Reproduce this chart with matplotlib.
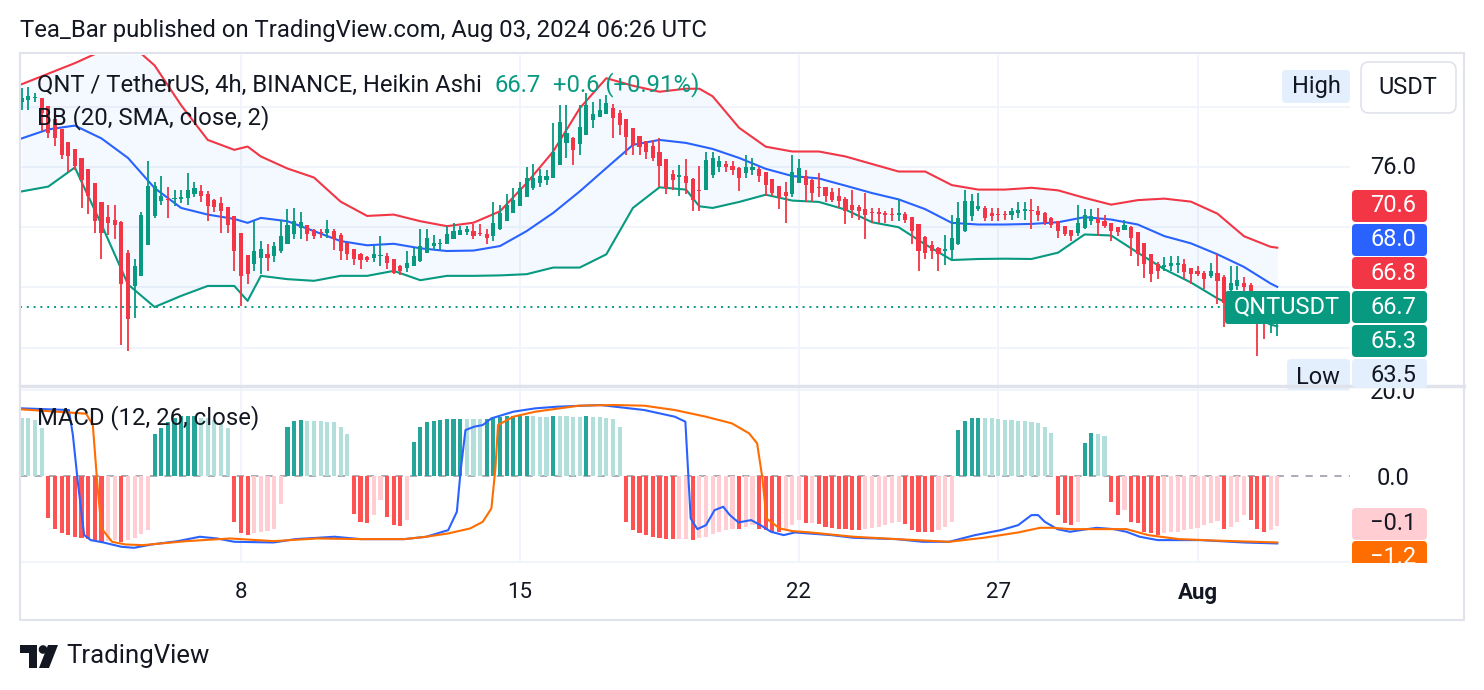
import numpy as np
import matplotlib
matplotlib.use("Agg")
import matplotlib.pyplot as plt
from matplotlib.patches import Rectangle, FancyBboxPatch, Polygon, Circle

plt.rcParams['font.family'] = ['Roboto', 'DejaVu Sans']

# ---------------- data ----------------
ha_open_first = 80.3
ha_close = [80.6, 80.7, 80.6, 79.56, 78.24, 77.91, 76.81, 76.7, 76.04, 75.15,
            74.05, 72.4, 71.63, 72.29, 72.18, 68.22, 65.9, 69.43, 72.84, 74.71,
            74.71, 74.05, 73.8, 73.9, 74.0, 74.5, 74.6, 74.05, 73.4, 73.35,
            73.06, 72.18, 70.42, 68.77, 68.88, 70.42, 70.53, 69.93, 70.75, 71.41,
            72.18, 72.4, 72.35, 71.52, 71.41, 71.6, 71.85, 71.19, 70.42, 70.2,
            69.87, 69.8, 69.85, 70.2, 70.1, 69.65, 68.99, 69.1, 69.65, 70.09,
            70.75, 71.3, 70.95, 70.97, 71.52, 71.78, 71.8, 71.85, 71.41, 71.52,
            71.3, 72.29, 72.95, 73.5, 73.83, 74.6, 75.26, 75.26, 75.37, 75.37,
            77.03, 79.01, 78.24, 77.14, 78.68, 80.11, 79.55, 79.78, 80.22, 79.23,
            78.79, 78.02, 77.47, 77.36, 77.03, 76.59, 76.04, 74.6, 75.15, 75.48,
            74.93, 73.83, 74.38, 76.48, 76.59, 76.37, 76.0, 75.79, 75.26, 76.0,
            76.0, 75.37, 74.82, 74.27, 73.94, 74.05, 75.7, 75.92, 74.82, 74.27,
            74.6, 74.05, 73.83, 73.72, 73.06, 73.17, 73.06, 72.84, 72.95, 72.86,
            72.8, 72.8, 72.95, 72.51, 71.74, 70.42, 70.31, 70.42, 70.2, 70.55,
            71.3, 72.62, 73.72, 73.72, 73.39, 72.62, 72.73, 72.8, 72.78, 73.06,
            73.17, 73.2, 73.05, 72.84, 72.29, 72.18, 71.74, 71.52, 71.41, 72.29,
            72.84, 72.73, 72.29, 72.07, 71.74, 71.7, 72.18, 71.3, 70.2, 69.54,
            68.88, 69.1, 69.5, 69.6, 69.6, 69.0, 68.9, 68.88, 68.55, 69.1,
            68.44, 67.0, 68.3, 68.5, 68.0, 66.9, 65.8, 65.9, 66.4, 66.6]
ha_high = [81.25, 81.3, 80.9, 80.6, 79.8, 78.6, 77.9, 77.5, 76.8, 76.2,
           75.4, 74.6, 73.0, 73.5, 73.5, 72.4, 70.5, 69.9, 73.0, 76.4,
           75.0, 75.4, 74.7, 74.5, 74.5, 75.6, 75.0, 74.8, 74.4, 73.9,
           74.0, 73.2, 72.4, 71.4, 70.1, 72.4, 71.1, 70.9, 71.0, 72.5,
           73.2, 73.3, 73.0, 72.0, 71.9, 71.9, 72.5, 71.9, 71.6, 70.9,
           70.5, 70.3, 70.1, 70.75, 71.4, 70.3, 69.8, 69.5, 70.4, 70.6,
           71.9, 71.9, 71.5, 71.2, 72.1, 72.3, 72.1, 72.1, 72.2, 72.2,
           71.9, 73.7, 73.5, 74.2, 74.6, 75.0, 76.0, 76.2, 75.9, 75.8,
           78.9, 80.1, 80.1, 78.0, 80.1, 80.9, 80.3, 80.55, 80.8, 80.2,
           79.8, 79.2, 78.6, 78.0, 77.7, 77.8, 77.9, 76.4, 75.8, 76.15,
           76.5, 75.3, 76.1, 77.0, 77.0, 76.7, 76.4, 76.4, 76.0, 76.8,
           76.6, 76.0, 75.5, 75.2, 74.6, 75.0, 76.8, 76.5, 75.8, 75.2,
           75.6, 74.7, 74.6, 74.6, 74.0, 74.5, 73.5, 74.3, 73.3, 73.3,
           73.1, 73.3, 73.9, 73.0, 72.7, 72.0, 71.4, 71.1, 70.7, 71.5,
           72.8, 73.7, 74.5, 74.2, 74.3, 73.4, 73.3, 73.3, 73.1, 73.3,
           73.7, 73.7, 73.9, 73.4, 73.0, 72.7, 72.4, 72.0, 71.8, 73.5,
           73.2, 73.2, 73.3, 72.8, 72.3, 72.0, 72.5, 72.1, 71.6, 70.9,
           70.2, 69.7, 70.0, 70.1, 70.1, 69.9, 69.3, 69.4, 69.1, 69.6,
           70.2, 68.8, 69.4, 69.4, 68.7, 68.3, 67.5, 66.6, 66.5, 66.8]
ha_low = [79.8, 79.8, 80.3, 78.4, 77.9, 77.4, 76.5, 75.7, 75.8, 73.3,
          72.9, 71.6, 69.9, 71.5, 71.2, 64.15, 63.8, 66.0, 69.3, 70.8,
          72.6, 73.5, 72.6, 73.4, 73.6, 73.5, 74.0, 73.7, 72.4, 73.0,
          71.6, 71.6, 69.1, 66.8, 68.2, 69.1, 68.9, 69.1, 69.7, 70.3,
          71.0, 71.2, 71.2, 71.1, 71.2, 71.3, 71.3, 70.5, 69.8, 69.8,
          69.5, 69.2, 69.7, 69.7, 69.4, 69.2, 68.9, 68.8, 69.0, 69.4,
          69.7, 70.4, 70.5, 70.5, 70.9, 71.2, 71.5, 71.5, 71.2, 71.4,
          70.9, 71.1, 71.8, 72.5, 73.0, 73.5, 74.2, 74.5, 74.7, 74.8,
          75.3, 76.3, 76.6, 76.15, 76.8, 78.1, 78.6, 79.3, 79.5, 77.9,
          78.1, 76.8, 76.8, 76.8, 76.5, 76.4, 74.7, 74.2, 74.5, 74.1,
          74.2, 73.06, 73.06, 74.5, 75.3, 75.7, 75.7, 75.5, 74.4, 75.3,
          75.5, 75.0, 74.05, 74.05, 73.2, 72.3, 74.0, 75.0, 73.7, 73.7,
          74.0, 73.7, 73.7, 73.3, 72.2, 72.6, 72.5, 71.2, 72.3, 72.3,
          72.3, 72.4, 72.4, 72.3, 70.9, 69.1, 69.9, 69.9, 69.1, 69.5,
          69.8, 70.8, 71.7, 72.4, 73.06, 72.4, 72.4, 72.4, 72.5, 72.5,
          72.6, 72.5, 71.85, 72.4, 72.18, 71.96, 71.3, 71.4, 71.08, 71.4,
          71.9, 72.18, 71.4, 71.96, 71.08, 71.4, 71.85, 70.09, 69.43, 68.66,
          68.33, 68.55, 69.1, 69.1, 68.99, 68.55, 68.2, 68.77, 67.9, 68.66,
          66.9, 65.35, 67.0, 67.8, 67.6, 66.2, 63.45, 64.58, 65.0, 64.8]

bb_idx = [0, 4, 8, 12, 16, 20, 24, 28, 32, 34, 36, 40, 44, 48, 52, 56, 60, 64, 68,
          72, 76, 80, 84, 88, 92, 96, 100, 102, 104, 108, 112, 116, 120, 124, 128,
          132, 136, 140, 144, 148, 152, 156, 160, 164, 168, 172, 176, 180, 184, 188, 189]
bb_upper = [81.5, 82.2, 82.9, 83.7, 84.3, 82.75, 80.1, 77.8, 77.14, 77.36, 76.7, 75.9,
            75.3, 73.7, 72.75, 72.84, 72.4, 72.07, 72.3, 73.06, 74.93, 77.03, 79.9,
            81.9, 81.4, 81.0, 81.2, 81.2, 80.7, 78.6, 77.35, 77.03, 77.03, 76.7, 76.2,
            75.7, 75.7, 74.8, 74.5, 74.5, 74.62, 74.45, 73.95, 73.5, 73.8, 73.9, 73.7,
            72.9, 71.4, 70.7, 70.64]
bb_basis = [77.9, 78.5, 78.75, 77.9, 76.6, 74.6, 73.28, 72.84, 72.55, 72.29, 72.62,
            72.4, 71.74, 71.08, 70.8, 70.9, 70.6, 70.42, 70.45, 70.75, 71.74, 72.95,
            74.38, 75.93, 77.47, 77.8, 77.6, 77.4, 77.2, 76.6, 75.88, 75.4, 75.24,
            74.76, 74.27, 73.85, 73.2, 72.29, 72.18, 72.18, 72.22, 72.33, 72.67,
            72.51, 72.18, 71.41, 70.93, 70.2, 69.36, 68.26, 68.04]
bb_lower = [74.38, 74.7, 75.97, 72.18, 68.2, 66.7, 67.44, 68.1, 68.1, 67.11, 68.77,
            68.55, 68.44, 68.77, 68.77, 69.1, 68.48, 68.77, 68.77, 68.8, 68.88, 69.32,
            69.32, 70.2, 73.28, 74.65, 74.5, 73.39, 73.28, 73.68, 74.16, 73.77, 73.68,
            73.17, 72.33, 72.0, 70.86, 69.82, 69.89, 69.91, 69.89, 70.31, 71.52, 71.45,
            70.31, 69.21, 68.33, 67.27, 66.41, 65.53, 65.42]
last_price = 66.7

macd_hist = [13.4, 13.4, 13.0, 11.2,
             -9.8, -12.2, -13.3, -13.7, -14.1, -14.5, -14.7, -15.0, -15.3, -15.1, -14.9,
             -15.3, -14.8, -14.3, -13.5, -12.6,
             9.7, 11.1, 12.6, 13.4, 13.9, 13.95, 14.0, 13.4, 13.4, 13.0, 12.3, 11.1,
             -10.6, -13.3, -13.7, -13.3, -12.9, -12.8, -12.2, -6.4,
             11.5, 12.8, 13.0, 12.8, 12.8, 12.75, 12.6, 12.5, 11.5, 9.7,
             -8.7, -10.6, -10.8, -9.1, -5.6, -9.5, -11.4, -11.5, -10.2,
             7.98, 11.47, 12.64, 12.79, 13.02, 13.18, 13.26, 13.3, 13.26, 13.24, 13.18,
             13.25, 13.57, 13.8, 13.88, 13.95, 14.02, 14.05, 13.95, 13.8, 13.78, 14.0,
             13.9, 13.85, 13.8, 13.75, 14.0, 13.8, 13.78, 13.6, 13.2, 11.5,
             -10.6, -12.6, -13.3, -13.7, -14.1, -14.5, -14.65, -14.7,
             -14.6, -14.55, -14.8, -14.3, -14.1, -13.5, -12.95, -12.56, -12.3,
             -12.4, -11.8, -11.4, -12.2, -12.6, -12.95, -13.1,
             -12.2, -11.4, -10.23, -11.0, -10.9, -11.2, -11.8, -12.0, -12.2, -12.3,
             -12.56, -12.6, -12.2, -12.0, -11.8, -11.4, -11.0, -10.6,
             -11.2, -12.56, -12.95, -13.0, -13.05, -12.56, -11.8, -10.6,
             10.7, 12.8, 13.4, 13.6, 13.41, 13.4, 13.26, 13.02, 12.95, 12.87, 12.79,
             12.64, 12.25, 11.47, 9.92,
             -9.1, -11.0, -11.4, -10.6,
             7.6, 9.9, 9.7, 9.2,
             -6.0, -9.1, -7.9, -10.6, -11.0, -12.95, -13.3, -13.7, -13.3, -13.1,
             -12.95, -12.56, -12.3, -12.17, -11.4, -11.0, -10.4, -12.3, -11.8, -10.6,
             -9.1, -10.2, -12.2, -12.95, -12.6, -11.5]
macd_x = [0, 7.1, 7.7, 8.5, 9.4, 10.4, 12.3, 15, 16.9, 19.6, 23.5, 26.8, 29.4, 32,
          37.9, 41.2, 47.1, 51, 57.6, 60.9, 64.2, 65.5, 66.1, 66.8, 68.1, 69.4, 70.7,
          74, 77.3, 80.6, 87.1, 93.7, 98.3, 99.9, 100.7, 101.7, 103, 104.3, 105.6,
          106.6, 107.9, 109.8, 111.2, 112.8, 114.7, 116.4, 121.9, 125.2, 131.7, 135.6,
          139.6, 143.5, 147.4, 150, 152, 153, 154, 155.9, 157.8, 160.4, 161.8, 164.4,
          166.3, 168.3, 171, 177.4, 184, 189]
macd_line = [15.74, 15.35, 9.54, -2.17, -13.72, -14.88, -15.43, -16.43, -16.67, -15.89,
             -15.12, -14.1, -14.5, -15.27, -15.43, -14.65, -14.1, -14.65, -14.65, -14.1,
             -12.56, -8.3, 1.71, 10.7, 11.47, 11.86, 13.41, 14.96, 15.74, 16.12, 16.51,
             15.35, 13.8, 12.64, -9.84, -12.33, -11.4, -7.91, -7.13, -9.07, -10.77,
             -10.23, -11.4, -12.95, -13.72, -13.1, -13.72, -14.34, -14.65, -15.27,
             -15.27, -13.72, -12.56, -11.4, -9.07, -9.07, -10.62, -12.33, -12.95,
             -12.33, -12.02, -12.33, -12.95, -14.1, -14.88, -14.88, -15.43, -15.66]
sig_x = [0, 9.7, 10.7, 11.4, 12, 13.6, 15.6, 18.2, 24.8, 31.4, 37.9, 44.5, 51, 57.6,
         60.9, 64.2, 67.5, 69.4, 70.7, 71.3, 71.7, 74, 77.3, 83.9, 89.1, 93.7, 98.3,
         103, 106.9, 109.5, 110.7, 111.5, 112.1, 114.1, 116, 118.7, 125.2, 131.7,
         139.6, 144.8, 150, 153.3, 155.2, 157.8, 161.8, 166.3, 169.6, 174.2, 180.7, 189]
signal_line = [15.5, 14.5, 11.86, -2.17, -12.17, -15.27, -15.89, -16.05, -15.12, -14.5,
               -15.12, -14.5, -14.65, -14.65, -14.1, -13.33, -12.17, -10.62, -7.52, 1.71,
               11.86, 13.8, 14.96, 16.36, 16.51, 16.36, 15.35, 13.8, 12.25, 9.92, 7.6,
               -0.54, -9.84, -12.17, -12.79, -13.1, -14.1, -14.65, -15.27, -14.34, -13.1,
               -12.02, -12.02, -12.33, -12.33, -12.33, -13.72, -14.65, -15.04, -15.43]

day_ticks = [33, 75, 117, 147, 177]
day_labels = ["8", "15", "22", "27", "Aug"]
price_grid = [64.0, 68.0, 72.0, 76.0, 80.0]
price_tick_labels = [76.0]          # the only scale label not hidden by tags
macd_grid = [-20.0, 20.0]
macd_tick_labels = [20.0, 0.0]
scale_tags = [("70.6", "#f23645", "white"), ("68.0", "#2962ff", "white"),
              ("66.8", "#f23645", "white"), ("66.7", "#089981", "white"),
              ("65.3", "#089981", "white")]
low_tag = "63.5"
macd_tags = [("\u22120.1", "#ffcdd2", "#131722"), ("\u22121.2", "#ff6d00", "white")]

# ---------------- styling ----------------
GREEN = "#089981"
RED = "#f23645"
GRID = "#f0f3fa"
TEXT = "#131722"
FS = 17
W, H = 1484, 690

fig = plt.figure(figsize=(W / 100, H / 100), dpi=100)
fig.patch.set_facecolor("white")


def rect(x0, y0, x1, y1):
    return [x0 / W, 1 - y1 / H, (x1 - x0) / W, (y1 - y0) / H]


XL = (-0.26, 199.95)

# ---- price pane ----
ax = fig.add_axes(rect(20, 55, 1350, 385))
ax.set_xlim(*XL)
ax.set_ylim(61.52, 83.44)
for s in ax.spines.values():
    s.set_visible(False)
ax.set_xticks([])
ax.set_yticks([])
for p in price_grid:
    ax.axhline(p, color=GRID, lw=1.3, zorder=0)
for t in day_ticks:
    ax.axvline(t, color=GRID, lw=1.3, zorder=0)

ax.fill_between(bb_idx, bb_lower, bb_upper, color="#2196f3", alpha=0.05, lw=0, zorder=1)
ax.plot(bb_idx, bb_upper, color=RED, lw=1.5, zorder=2)
ax.plot(bb_idx, bb_basis, color="#2962ff", lw=1.5, zorder=2)
ax.plot(bb_idx, bb_lower, color=GREEN, lw=1.5, zorder=2)

c = np.array(ha_close)
n = len(c)
o = np.empty(n)
o[0] = ha_open_first
for k in range(1, n):
    o[k] = (o[k - 1] + c[k - 1]) / 2
hi = np.maximum(np.array(ha_high), np.maximum(o, c))
lo = np.minimum(np.array(ha_low), np.minimum(o, c))
xs = np.arange(n)
cols = np.where(c >= o, GREEN, RED)
ax.vlines(xs, lo, hi, colors=cols, lw=1.3, zorder=3)
ax.bar(xs, np.maximum(np.abs(c - o), 0.07), bottom=np.minimum(o, c), width=0.62,
       color=cols, lw=0, zorder=4)
ax.axhline(last_price, color=GREEN, lw=1.4, ls=(0, (1, 2.5)), zorder=5)

# ---- MACD pane ----
axm = fig.add_axes(rect(20, 387, 1350, 563))
axm.set_xlim(*XL)
axm.set_ylim(-20.2, 20.7)
for s in axm.spines.values():
    s.set_visible(False)
axm.set_xticks([])
axm.set_yticks([])
for g in macd_grid:
    axm.axhline(g, color=GRID, lw=1.3, zorder=0)
for t in day_ticks:
    axm.axvline(t, color=GRID, lw=1.3, zorder=0)
hv = np.array(macd_hist)
prev = np.concatenate([[hv[0]], hv[:-1]])
hcols = np.where(hv >= 0,
                 np.where(hv > prev, "#26a69a", "#b2dfdb"),
                 np.where(hv < prev, "#ff5252", "#ffcdd2"))
axm.bar(np.arange(len(hv)), hv, width=0.62, color=hcols, lw=0, zorder=2)
axm.axhline(0, color="#a3a6af", lw=1.3, ls=(0, (4, 4)), zorder=1)
axm.plot(macd_x, macd_line, color="#2962ff", lw=1.5, zorder=3)
axm.plot(sig_x, signal_line, color="#ff6d00", lw=1.5, zorder=3)

# ---- overlay (frames, scales, texts) ----
ov = fig.add_axes([0, 0, 1, 1])
ov.set_xlim(0, W)
ov.set_ylim(H, 0)
ov.axis("off")
ov.patch.set_visible(False)

FR = "#e0e3eb"
ov.plot([20, 1464, 1464, 20, 20], [53, 53, 620, 620, 53], color=FR, lw=1.5)
ov.plot([20, 1464], [385.5, 385.5], color=FR, lw=2.5)

# price scale
pmin, pmax = 61.52, 83.44
for p in price_tick_labels:
    yy = 55 + (pmax - p) / (pmax - pmin) * 330
    ov.text(1393, yy, f"{p:.1f}", ha="center", va="center", fontsize=FS, color=TEXT)

tag_y = [206, 240, 273, 307, 341]
for (lab, bg, fg), yy in zip(scale_tags, tag_y):
    ov.add_patch(FancyBboxPatch((1352, yy - 16), 75, 32,
                                boxstyle="round,pad=0,rounding_size=4",
                                fc=bg, ec="none"))
    ov.text(1393, yy, lab, ha="center", va="center", fontsize=FS, color=fg)

ov.add_patch(FancyBboxPatch((1282, 70), 68, 33, boxstyle="round,pad=0,rounding_size=4",
                            fc="#e3effd", ec="none"))
ov.text(1316, 87, "High", ha="center", va="center", fontsize=FS, color=TEXT)
ov.add_patch(FancyBboxPatch((1287, 359), 63, 31, boxstyle="round,pad=0,rounding_size=4",
                            fc="#e3effd", ec="none"))
ov.text(1318, 377, "Low", ha="center", va="center", fontsize=FS, color=TEXT)
ov.add_patch(FancyBboxPatch((1361, 62), 95, 51, boxstyle="round,pad=0,rounding_size=8",
                            fc="white", ec=FR, lw=1.2))
ov.text(1408, 88, "USDT", ha="center", va="center", fontsize=FS, color=TEXT)
ov.add_patch(FancyBboxPatch((1225, 291), 125, 33, boxstyle="round,pad=0,rounding_size=3",
                            fc=GREEN, ec="none"))
ov.text(1287, 307, "QNTUSDT", ha="center", va="center", fontsize=FS, color="white")

# MACD scale (clipped to its pane)
clip = Rectangle((1350, 387), 114, 176, transform=ov.transData)
mmin, mmax = -20.2, 20.7
for val in macd_tick_labels:
    yy = 387 + (mmax - val) / (mmax - mmin) * 176
    t = ov.text(1393, yy + 2, f"{val:.1f}", ha="center", va="center", fontsize=FS,
                color=TEXT, zorder=1)
    t.set_clip_path(clip)
for (lab, bg, fg), yy in zip(macd_tags, [524, 557]):
    bp = FancyBboxPatch((1352, yy - 16), 75, 32, boxstyle="round,pad=0,rounding_size=4",
                        fc=bg, ec="none", zorder=2)
    ov.add_patch(bp)
    bp.set_clip_path(clip)
    t = ov.text(1393, yy, lab, ha="center", va="center", fontsize=FS, color=fg, zorder=3)
    t.set_clip_path(clip)
# low tag sits over the top of the MACD scale
ov.add_patch(FancyBboxPatch((1352, 359), 75, 29, boxstyle="round,pad=0,rounding_size=4",
                            fc="#e3effd", ec="none", zorder=4))
ov.text(1393, 376, low_tag, ha="center", va="center", fontsize=FS, color=TEXT, zorder=5)

# time axis
for t, lab in zip(day_ticks, day_labels):
    xx = 20 + (t - XL[0]) / (XL[1] - XL[0]) * 1330
    ov.text(xx, 593, lab, ha="center", va="center", fontsize=16, color=TEXT,
            fontweight="bold" if lab == "Aug" else "normal")

# header & legends
ov.text(20, 30, "Tea_Bar published on TradingView.com, Aug 03, 2024 06:26 UTC",
        ha="left", va="center", fontsize=17.2, color=TEXT)
ov.text(37, 85, "QNT / TetherUS, 4h, BINANCE, Heikin Ashi", ha="left", va="center",
        fontsize=17.2, color=TEXT)
ov.text(495, 85, "66.7", ha="left", va="center", fontsize=17.2, color=GREEN)
ov.text(553, 85, "+0.6 (+0.91%)", ha="left", va="center", fontsize=17.2, color=GREEN)
ov.text(37, 118, "BB (20, SMA, close, 2)", ha="left", va="center", fontsize=17.2, color=TEXT)
ov.text(37, 418, "MACD (12, 26, close)", ha="left", va="center", fontsize=17.2, color=TEXT)

# footer logo
ov.add_patch(Polygon([[20, 645], [37, 645], [37, 668], [29, 668], [29, 653], [20, 653]],
                     closed=True, fc=TEXT, ec="none"))
ov.add_patch(Circle((43, 649.5), 4.3, fc=TEXT, ec="none"))
ov.add_patch(Polygon([[48, 645], [58, 645], [49, 668], [39, 668]], closed=True,
                     fc=TEXT, ec="none"))
ov.text(66, 656, "TradingView", ha="left", va="center", fontsize=18.5, color=TEXT)

fig.savefig("out.png", dpi=100, facecolor="white")
